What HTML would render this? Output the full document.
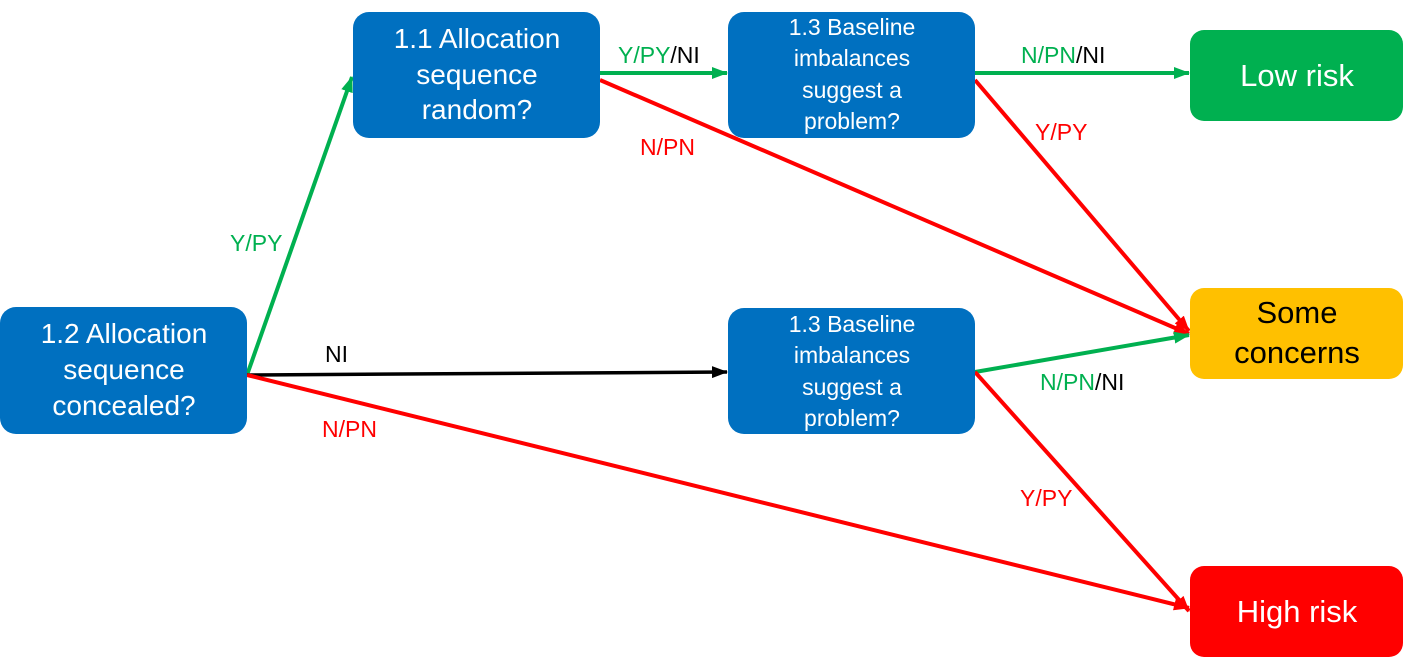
<!DOCTYPE html>
<html><head><meta charset="utf-8"><style>
body{margin:0;background:#fff;}
svg{display:block;font-family:"Liberation Sans",sans-serif;}
</style></head><body>
<svg width="1404" height="658" viewBox="0 0 1404 658" xmlns="http://www.w3.org/2000/svg">
<defs>
<marker id="ag" markerWidth="16" markerHeight="12" refX="15" refY="6" orient="auto" markerUnits="userSpaceOnUse"><path d="M0,0 L16,6 L0,12 z" fill="#00B050"/></marker>
<marker id="ar" markerWidth="16" markerHeight="12" refX="15" refY="6" orient="auto" markerUnits="userSpaceOnUse"><path d="M0,0 L16,6 L0,12 z" fill="#FF0000"/></marker>
<marker id="ak" markerWidth="16" markerHeight="12" refX="15" refY="6" orient="auto" markerUnits="userSpaceOnUse"><path d="M0,0 L16,6 L0,12 z" fill="#000"/></marker>
</defs>
<g stroke-width="4" fill="none">
<line x1="247" y1="375" x2="352" y2="77" stroke="#00B050" marker-end="url(#ag)"/>
<line x1="247" y1="375" x2="727" y2="372" stroke="#000" stroke-width="3.5" marker-end="url(#ak)"/>
<line x1="247" y1="375" x2="1189" y2="608" stroke="#FF0000" marker-end="url(#ar)"/>
<line x1="600" y1="73" x2="727" y2="73" stroke="#00B050" marker-end="url(#ag)"/>
<line x1="600" y1="80" x2="1189" y2="334" stroke="#FF0000" marker-end="url(#ar)"/>
<line x1="975" y1="73" x2="1189" y2="73" stroke="#00B050" marker-end="url(#ag)"/>
<line x1="975" y1="80" x2="1189" y2="331" stroke="#FF0000" marker-end="url(#ar)"/>
<line x1="975" y1="372" x2="1189" y2="335" stroke="#00B050" marker-end="url(#ag)"/>
<line x1="975" y1="372" x2="1189" y2="611" stroke="#FF0000" marker-end="url(#ar)"/>
</g>
<g fill="#0070C0">
<rect x="0" y="307" width="247" height="127" rx="16"/>
<rect x="353" y="12" width="247" height="126" rx="16"/>
<rect x="728" y="12" width="247" height="126" rx="16"/>
<rect x="728" y="308" width="247" height="126" rx="16"/>
</g>
<rect x="1190" y="30" width="213" height="91" rx="14" fill="#00B050"/>
<rect x="1190" y="288" width="213" height="91" rx="14" fill="#FFC000"/>
<rect x="1190" y="566" width="213" height="91" rx="14" fill="#FF0000"/>
<g fill="#fff" text-anchor="middle" font-size="28">
<text x="124" y="343">1.2 Allocation</text><text x="124" y="379">sequence</text><text x="124" y="415">concealed?</text>
<text x="477" y="48">1.1 Allocation</text><text x="477" y="84">sequence</text><text x="477" y="119">random?</text>
</g>
<g fill="#fff" text-anchor="middle" font-size="23">
<text x="852" y="35">1.3 Baseline</text><text x="852" y="66">imbalances</text><text x="852" y="98">suggest a</text><text x="852" y="129">problem?</text>
<text x="852" y="332">1.3 Baseline</text><text x="852" y="363">imbalances</text><text x="852" y="395">suggest a</text><text x="852" y="426">problem?</text>
</g>
<g text-anchor="middle" font-size="31">
<text x="1297" y="86" fill="#fff">Low risk</text>
<text x="1297" y="323" fill="#000">Some</text><text x="1297" y="363" fill="#000">concerns</text>
<text x="1297" y="622" fill="#fff">High risk</text>
</g>
<g font-size="23">
<text x="230" y="251" fill="#00B050">Y/PY</text>
<text x="325" y="362" fill="#000">NI</text>
<text x="322" y="437" fill="#FF0000">N/PN</text>
<text x="618" y="63"><tspan fill="#00B050">Y/PY</tspan><tspan fill="#000">/NI</tspan></text>
<text x="640" y="155" fill="#FF0000">N/PN</text>
<text x="1021" y="63"><tspan fill="#00B050">N/PN</tspan><tspan fill="#000">/NI</tspan></text>
<text x="1035" y="140" fill="#FF0000">Y/PY</text>
<text x="1040" y="390"><tspan fill="#00B050">N/PN</tspan><tspan fill="#000">/NI</tspan></text>
<text x="1020" y="506" fill="#FF0000">Y/PY</text>
</g>
</svg>
</body></html>
